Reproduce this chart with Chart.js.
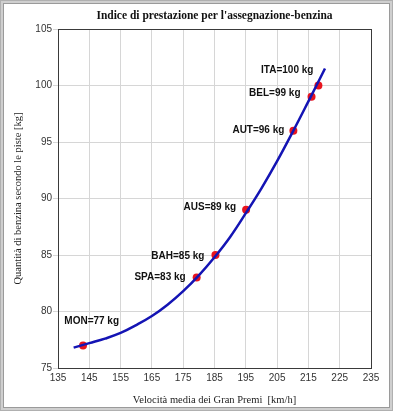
<!DOCTYPE html>
<html>
<head>
<meta charset="utf-8">
<script src="https://cdn.jsdelivr.net/npm/chart.js@4.4.1/dist/chart.umd.min.js"></script>
<style>
    html, body { margin: 0; padding: 0; background: #fff; }
    #wrap { position: relative; width: 393px; height: 411px; }
    #chart { position: absolute; left: 0; top: 0; }
    #frame {
        position: absolute; left: 0; top: 0; width: 393px; height: 411px;
        box-sizing: border-box; pointer-events: none;
        border: 3px solid #cfcfcf;
        box-shadow: inset 0 0 0 1px #9a9a9a;
        outline: 1px solid #b0b0b0; outline-offset: -1px;
    }
</style>
</head>
<body>
<div id="wrap">
    <canvas id="chart" width="393" height="411"></canvas>
    <div id="frame"></div>
</div>
<script>
// Grand Prix data
const circuits = ['MON', 'SPA', 'BAH', 'AUS', 'AUT', 'BEL', 'ITA'];
const avgSpeed = [143, 179.3, 185.3, 195.1, 210.2, 216.0, 218.2];
const fuelKg = [77, 83, 85, 89, 96, 99, 100];

// fitted trend curve
const curveSpeed = [140, 145, 150, 155, 160, 165, 170, 175, 180, 185, 190, 195, 200, 205, 210, 215, 220.3];
const curveFuel = [76.8, 77.2, 77.6, 78.1, 78.8, 79.6, 80.6, 81.8, 83.2, 84.8, 86.6, 88.7, 90.9, 93.3, 95.9, 98.6, 101.5];

// tick values
const xTicks = [135, 145, 155, 165, 175, 185, 195, 205, 215, 225, 235];
const yTicks = [75, 80, 85, 90, 95, 100, 105];

// label offsets (px) from each point: [dx to text end, dy]
const labelOffsets = [[36, -24], [-11, 0], [-11, 1], [-10, -3], [-9, 0], [-11, -4], [-5, -15]];

const toXY = (xs, ys) => xs.map((x, i) => ({ x: x, y: ys[i] }));

// box around the plot area + point labels
const plotDecor = {
    id: 'plotDecor',
    afterDraw(chart) {
        const ctx = chart.ctx;
        const a = chart.chartArea;
        ctx.save();
        ctx.strokeStyle = '#3a3a3a';
        ctx.lineWidth = 1;
        ctx.strokeRect(Math.round(a.left) + 0.5, Math.round(a.top) + 0.5,
            Math.round(a.right - a.left), Math.round(a.bottom - a.top));

        const meta = chart.getDatasetMeta(1);
        ctx.font = 'bold 10px "Liberation Sans", Arial, sans-serif';
        ctx.fillStyle = '#111';
        ctx.textBaseline = 'middle';
        ctx.textAlign = 'right';
        meta.data.forEach(function (pt, i) {
            const text = circuits[i] + '=' + fuelKg[i] + ' kg';
            const off = labelOffsets[i];
            ctx.fillText(text, pt.x + off[0], pt.y + off[1]);
        });
        ctx.restore();
    }
};

const ctxChart = document.getElementById('chart').getContext('2d');
new Chart(ctxChart, {
    type: 'scatter',
    data: {
        datasets: [{
            label: 'Curva',
            data: toXY(curveSpeed, curveFuel),
            showLine: true,
            borderColor: '#1414b4',
            borderWidth: 2.5,
            pointRadius: 0,
            fill: false,
            tension: 0.4
        }, {
            label: 'Gran Premi',
            data: toXY(avgSpeed, fuelKg),
            backgroundColor: '#e8141e',
            borderColor: '#e8141e',
            borderWidth: 0,
            pointRadius: 4
        }]
    },
    options: {
        responsive: false,
        animation: false,
        layout: { padding: { left: 0, right: 22, top: 0, bottom: 0 } },
        scales: {
            x: {
                type: 'linear',
                min: 135,
                max: 235,
                afterBuildTicks: function (axis) {
                    axis.ticks = xTicks.map(v => ({ value: v }));
                },
                afterFit: function (axis) { axis.height = 43; },
                grid: { color: '#d6d6d6', drawTicks: false },
                border: { display: false },
                ticks: {
                    padding: 4,
                    color: '#333',
                    font: { family: '"Liberation Sans", Arial, sans-serif', size: 10 },
                    maxRotation: 0
                },
                title: {
                    display: true,
                    text: 'Velocità media dei Gran Premi  [km/h]',
                    color: '#222',
                    font: { family: '"Liberation Serif", "Times New Roman", serif', size: 10.5 },
                    padding: { top: 4, bottom: 4 }
                }
            },
            y: {
                type: 'linear',
                min: 75,
                max: 105,
                afterBuildTicks: function (axis) {
                    axis.ticks = yTicks.map(v => ({ value: v }));
                },
                afterFit: function (axis) { axis.width = 58; },
                grid: { color: '#d6d6d6', drawTicks: true, tickLength: 5 },
                border: { display: false },
                ticks: {
                    padding: 1,
                    color: '#333',
                    font: { family: '"Liberation Sans", Arial, sans-serif', size: 10 }
                },
                title: {
                    display: true,
                    text: 'Quantità di benzina secondo le piste [kg]',
                    color: '#222',
                    font: { family: '"Liberation Serif", "Times New Roman", serif', size: 10.5 },
                    padding: { top: 12, bottom: 4 }
                }
            }
        },
        plugins: {
            legend: { display: false },
            tooltip: { enabled: false },
            title: {
                display: true,
                fullSize: false,
                text: "Indice di prestazione per l'assegnazione-benzina",
                color: '#111',
                font: { family: '"Liberation Serif", "Times New Roman", serif', size: 11.5, weight: 'bold' },
                padding: { top: 9.5, bottom: 5.7 }
            }
        }
    },
    plugins: [plotDecor]
});
</script>
</body>
</html>
